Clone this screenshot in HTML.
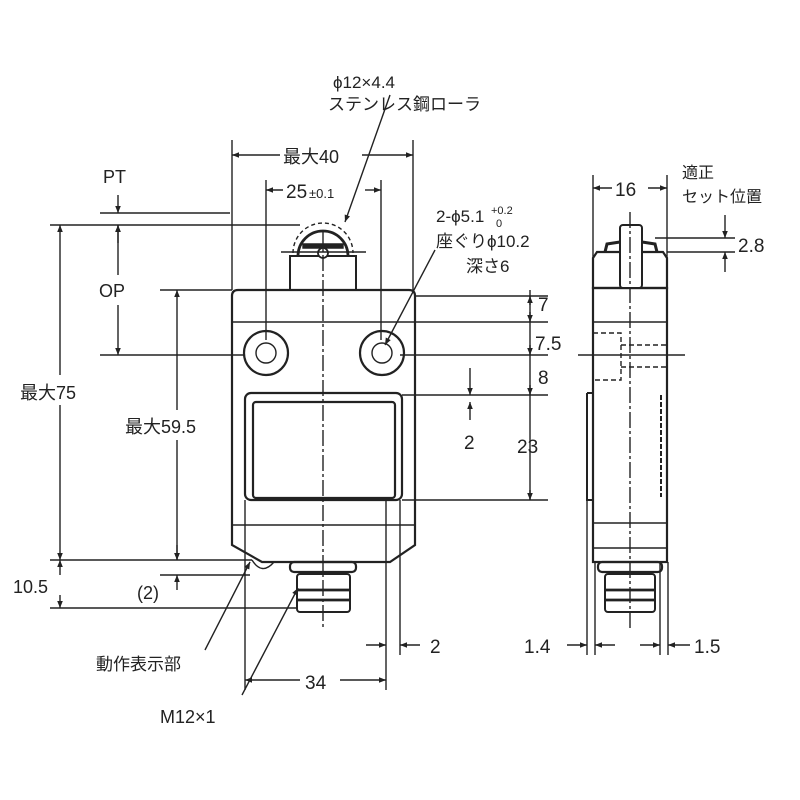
<!DOCTYPE html>
<html><head><meta charset="utf-8"><style>
html,body{margin:0;padding:0;background:#fff}
svg{display:block}
text{font-family:"Liberation Sans","Noto Sans CJK JP",sans-serif;fill:#222}
</style></head><body>
<svg width="800" height="800" viewBox="0 0 800 800" xmlns="http://www.w3.org/2000/svg">
<defs>
<marker id="a" viewBox="0 0 10 10" refX="10" refY="5" markerWidth="9" markerHeight="7" orient="auto-start-reverse" markerUnits="userSpaceOnUse"><path d="M0,1 L10,5 L0,9 z" fill="#222"/></marker>
</defs>
<g stroke="#222" fill="none" stroke-width="1.4">
<path d="M238,290 L409,290 Q415,290 415,296 L415,545 L390,562 L262,562 L232,545 L232,296 Q232,290 238,290 Z" stroke-width="2.2"/>
<line x1="232" y1="322" x2="415" y2="322" stroke-width="1.6"/>
<line x1="232" y1="525" x2="415" y2="525" stroke-width="1.6"/>
<rect x="245" y="393" width="157" height="107" rx="6" stroke-width="2.2"/>
<rect x="253" y="402" width="142" height="96" rx="3" stroke-width="2.2"/>
<circle cx="266" cy="353" r="22" stroke-width="2.2"/><circle cx="266" cy="353" r="10"/>
<circle cx="382" cy="353" r="22" stroke-width="2.2"/><circle cx="382" cy="353" r="10"/>
<rect x="290" y="256" width="66" height="34" stroke-width="2"/>
<path d="M298,256 A25,25 0 0 1 348,256" stroke-width="2.8"/>
<path d="M303,248 L343,248 L343,244 L303,244Z" fill="#222"/>
<path d="M293,253 A30,30 0 0 1 353,253" stroke-dasharray="4,3"/>
<circle cx="323" cy="253" r="5" fill="#fff" stroke-width="1.8"/>
<line x1="281" y1="252" x2="366" y2="252"/>
<path d="M252,560 Q262,576 274,562"/>
<rect x="290" y="562" width="66" height="10" rx="4" stroke-width="2.2"/>
<rect x="297" y="574" width="53" height="38" rx="3" stroke-width="2"/>
<line x1="298" y1="590" x2="349" y2="590" stroke-width="2.8"/>
<line x1="298" y1="600" x2="349" y2="600" stroke-width="2.8"/>
<line x1="323" y1="230" x2="323" y2="630" stroke-dasharray="16,3,3,3"/>
<line x1="232" y1="140" x2="232" y2="290"/><line x1="413" y1="140" x2="413" y2="290"/>
<line x1="266" y1="180" x2="266" y2="340"/><line x1="381" y1="180" x2="381" y2="340"/>
<line x1="245" y1="500" x2="245" y2="690"/><line x1="386" y1="500" x2="386" y2="690"/>
<line x1="400" y1="500" x2="400" y2="655"/>
<line x1="100" y1="213" x2="230" y2="213"/><line x1="50" y1="225" x2="300" y2="225"/>
<line x1="100" y1="355" x2="245" y2="355"/><line x1="160" y1="290" x2="232" y2="290"/>
<line x1="50" y1="560" x2="252" y2="560"/><line x1="160" y1="575" x2="250" y2="575"/>
<line x1="50" y1="608" x2="296" y2="608"/>
<line x1="415" y1="296" x2="548" y2="296"/><line x1="415" y1="322" x2="548" y2="322"/>
<line x1="400" y1="355" x2="548" y2="355"/><line x1="402" y1="395" x2="548" y2="395"/>
<line x1="402" y1="500" x2="548" y2="500"/>
<line x1="232" y1="155" x2="280" y2="155" marker-start="url(#a)"/><line x1="362" y1="155" x2="413" y2="155" marker-end="url(#a)"/>
<line x1="266" y1="190" x2="283" y2="190" marker-start="url(#a)"/><line x1="365" y1="190" x2="381" y2="190" marker-end="url(#a)"/>
<line x1="118" y1="195" x2="118" y2="213" marker-end="url(#a)"/><line x1="118" y1="243" x2="118" y2="225" marker-end="url(#a)"/>
<line x1="118" y1="225" x2="118" y2="275" marker-start="url(#a)"/><line x1="118" y1="305" x2="118" y2="355" marker-end="url(#a)"/>
<line x1="60" y1="225" x2="60" y2="375" marker-start="url(#a)"/><line x1="60" y1="405" x2="60" y2="560" marker-end="url(#a)"/>
<line x1="177" y1="290" x2="177" y2="410" marker-start="url(#a)"/><line x1="177" y1="440" x2="177" y2="560" marker-end="url(#a)"/>
<line x1="60" y1="560" x2="60" y2="575" marker-start="url(#a)"/><line x1="60" y1="595" x2="60" y2="608" marker-end="url(#a)"/>
<line x1="177" y1="545" x2="177" y2="560" marker-end="url(#a)"/><line x1="177" y1="590" x2="177" y2="575" marker-end="url(#a)"/>
<line x1="245" y1="680" x2="300" y2="680" marker-start="url(#a)"/><line x1="340" y1="680" x2="386" y2="680" marker-end="url(#a)"/>
<line x1="366" y1="645" x2="386" y2="645" marker-end="url(#a)"/><line x1="420" y1="645" x2="400" y2="645" marker-end="url(#a)"/>
<line x1="530" y1="290" x2="530" y2="500"/>
<line x1="530" y1="305" x2="530" y2="296" marker-end="url(#a)"/><line x1="530" y1="312" x2="530" y2="322" marker-end="url(#a)"/>
<line x1="530" y1="345" x2="530" y2="355" marker-end="url(#a)"/><line x1="530" y1="385" x2="530" y2="395" marker-end="url(#a)"/>
<line x1="530" y1="490" x2="530" y2="500" marker-end="url(#a)"/>
<line x1="470" y1="368" x2="470" y2="395" marker-end="url(#a)"/><line x1="470" y1="420" x2="470" y2="402" marker-end="url(#a)"/>
<line x1="390" y1="95" x2="345" y2="222" marker-end="url(#a)"/>
<line x1="435" y1="250" x2="385" y2="345" marker-end="url(#a)"/>
<line x1="205" y1="650" x2="250" y2="562" marker-end="url(#a)"/>
<line x1="242" y1="695" x2="298" y2="588" marker-end="url(#a)"/>
<rect x="593" y="288" width="74" height="274" stroke-width="2.2"/>
<line x1="593" y1="322" x2="667" y2="322" stroke-width="1.6"/>
<line x1="593" y1="523" x2="667" y2="523" stroke-width="1.6"/>
<line x1="593" y1="548" x2="667" y2="548" stroke-width="1.6"/>
<path d="M597,252 L663,252 L667,258 L667,288 L593,288 L593,258Z" stroke-width="2.2"/>
<path d="M605,252 L607,244 L620,242 M642,242 L655,244 L657,252" stroke-width="3"/>
<rect x="620" y="225" width="22" height="63" rx="3" stroke-width="2" fill="#fff"/>
<path d="M587,393 L593,393 M587,393 L587,500 L593,500" stroke-width="2"/>
<path d="M593,333 L621,333 L621,380 L593,380 M621,345 L667,345 M621,367 L667,367" stroke-dasharray="5,3"/>
<line x1="661" y1="395" x2="661" y2="497" stroke-dasharray="5,2" stroke-width="2"/>
<rect x="598" y="562" width="64" height="10" rx="4" stroke-width="2.2"/>
<rect x="605" y="574" width="50" height="38" rx="3" stroke-width="2"/>
<line x1="606" y1="590" x2="654" y2="590" stroke-width="2.8"/>
<line x1="606" y1="600" x2="654" y2="600" stroke-width="2.8"/>
<line x1="630" y1="212" x2="630" y2="630" stroke-dasharray="16,3,3,3"/>
<line x1="578" y1="355" x2="685" y2="355"/>
<line x1="593" y1="175" x2="593" y2="288"/><line x1="667" y1="175" x2="667" y2="288"/>
<line x1="587" y1="500" x2="587" y2="655"/><line x1="595" y1="562" x2="595" y2="655"/>
<line x1="660" y1="562" x2="660" y2="655"/><line x1="668" y1="562" x2="668" y2="655"/>
<line x1="593" y1="188" x2="612" y2="188" marker-start="url(#a)"/><line x1="648" y1="188" x2="667" y2="188" marker-end="url(#a)"/>
<line x1="655" y1="238" x2="735" y2="238"/><line x1="667" y1="252" x2="735" y2="252"/>
<line x1="725" y1="215" x2="725" y2="238" marker-end="url(#a)"/><line x1="725" y1="272" x2="725" y2="252" marker-end="url(#a)"/>
<line x1="567" y1="645" x2="587" y2="645" marker-end="url(#a)"/><line x1="615" y1="645" x2="595" y2="645" marker-end="url(#a)"/>
<line x1="640" y1="645" x2="660" y2="645" marker-end="url(#a)"/><line x1="690" y1="645" x2="668" y2="645" marker-end="url(#a)"/>
</g>
<g font-size="18">
<text x="333" y="88" font-size="17">ϕ12×4.4</text>
<text x="328" y="110" font-size="17">ステンレス鋼ローラ</text>
<text x="283" y="163">最大40</text>
<text x="286" y="198" font-size="19">25</text><text x="309" y="198" font-size="13">±0.1</text>
<text x="103" y="183">PT</text>
<text x="99" y="297">OP</text>
<text x="20" y="399">最大75</text>
<text x="125" y="433">最大59.5</text>
<text x="13" y="593">10.5</text>
<text x="137" y="599">(2)</text>
<text x="96" y="670" font-size="17">動作表示部</text>
<text x="160" y="723">M12×1</text>
<text x="305" y="689" font-size="19">34</text>
<text x="430" y="653" font-size="19">2</text>
<text x="436" y="222" font-size="17">2-ϕ5.1</text><text x="491" y="214" font-size="11">+0.2</text><text x="496" y="227" font-size="11">0</text>
<text x="436" y="247" font-size="17">座ぐりϕ10.2</text>
<text x="466" y="272" font-size="17">深さ6</text>
<text x="538" y="311" font-size="19">7</text>
<text x="535" y="350" font-size="19">7.5</text>
<text x="538" y="384" font-size="19">8</text>
<text x="464" y="449" font-size="19">2</text>
<text x="517" y="453" font-size="19">23</text>
<text x="615" y="196" font-size="19">16</text>
<text x="682" y="178" font-size="16">適正</text>
<text x="682" y="202" font-size="16">セット位置</text>
<text x="738" y="252" font-size="19">2.8</text>
<text x="524" y="653" font-size="19">1.4</text>
<text x="694" y="653" font-size="19">1.5</text>
</g>
</svg>
</body></html>
